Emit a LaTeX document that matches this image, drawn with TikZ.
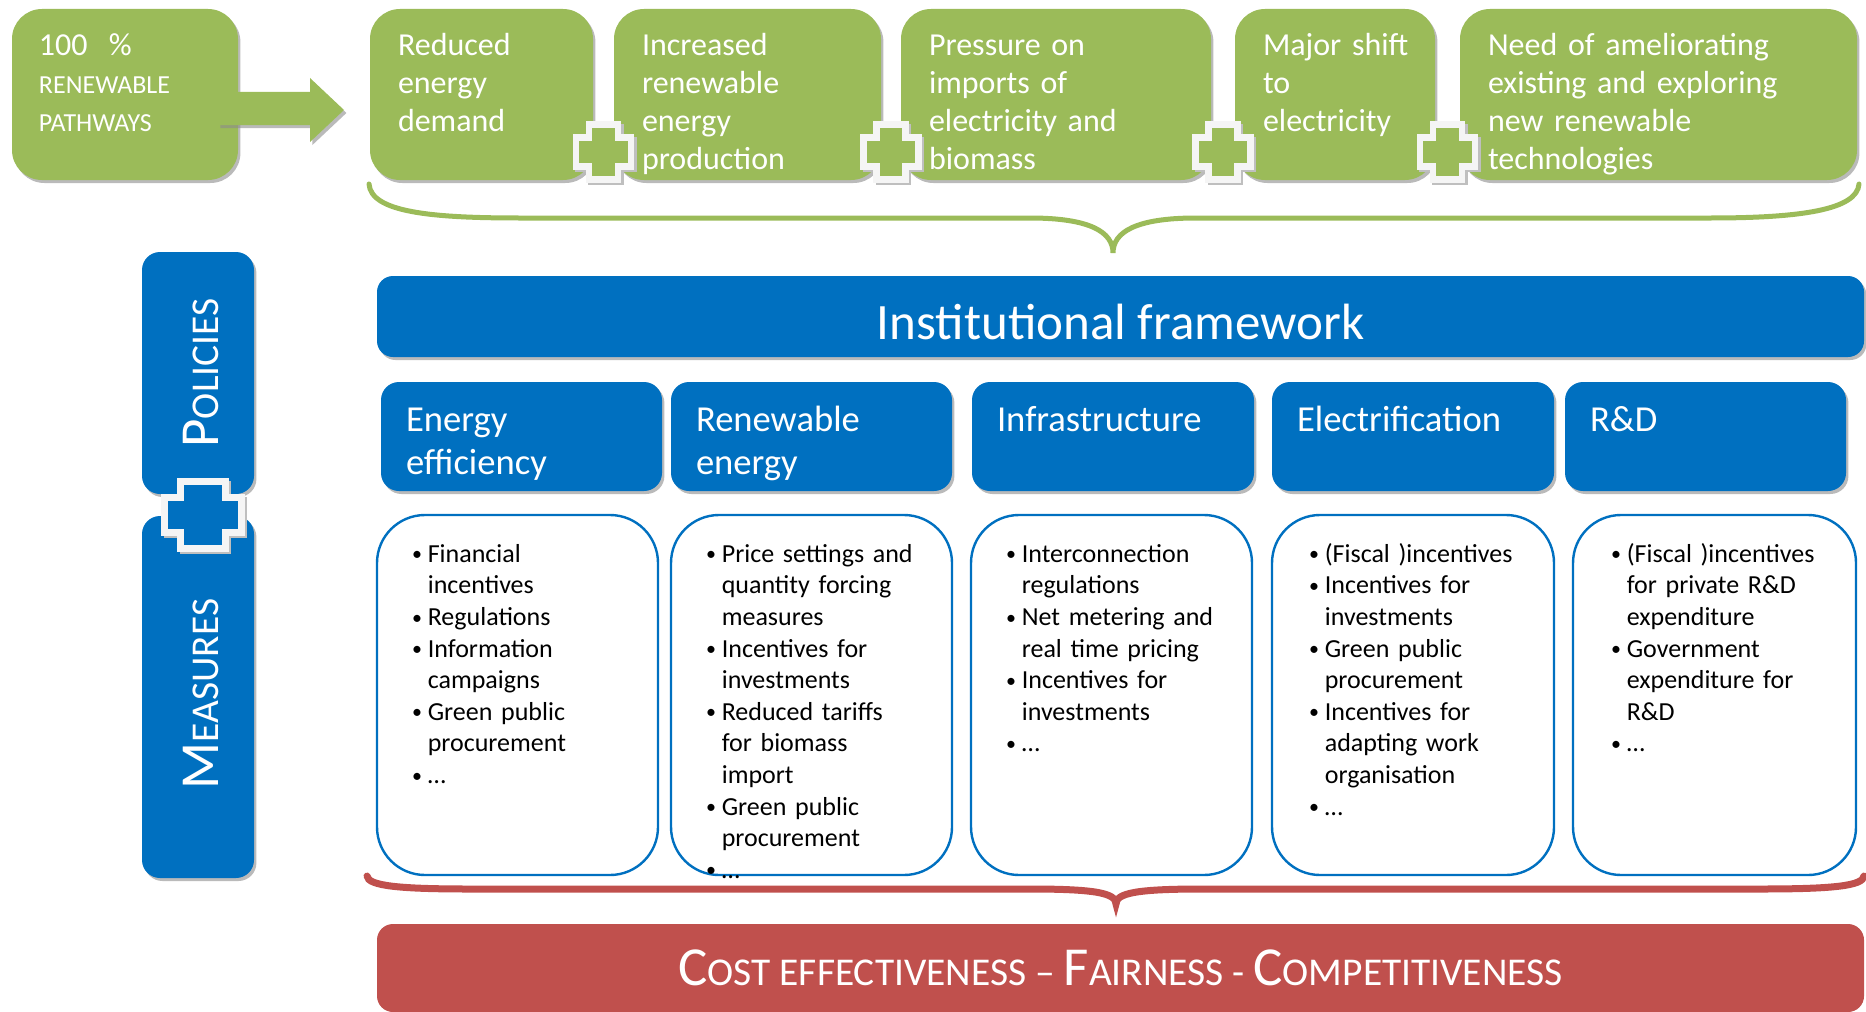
\documentclass[tikz,border=0pt]{standalone}
\usepackage{fontspec}
\setmainfont{Carlito}
\usetikzlibrary{positioning,shadows}

\definecolor{pgreen}{HTML}{9BBB59}
\definecolor{pblue}{HTML}{0070C0}
\definecolor{pred}{HTML}{C0504D}

\newcommand{\bul}{\makebox[8.3pt][l]{\hspace{0.4pt}\raisebox{0.7pt}{\fontsize{10}{10}\selectfont\textbullet}}}
\newcommand{\cnt}{\hspace*{8.3pt}}
\newcommand{\scbig}{\fontsize{27.5}{30}\selectfont}
\newcommand{\scsmall}{\fontsize{19.7}{24}\selectfont}

\begin{document}
\begin{tikzpicture}[x=0.5pt,y=-0.5pt,
  shd/.style={drop shadow={shadow xshift=1.2pt,shadow yshift=-1.5pt,fill=black!45,opacity=.6}},
  gbox/.style={fill=pgreen,rounded corners=15pt,inner sep=0,minimum height=85.5pt,shd},
  gtxt/.style={text=white,align=left,inner sep=0,text width=165pt,font=\fontsize{16}{19}\selectfont,execute at begin node=\strut},
  bbox/.style={fill=pblue,rounded corners=9pt,inner sep=0,shd},
  btxt/.style={text=white,align=left,inner sep=0,text width=130pt,font=\fontsize{18.3}{21.5}\selectfont,execute at begin node=\strut},
  lbox/.style={draw=pblue,line width=1.2pt,fill=white,rounded corners=24pt,minimum height=180pt,inner sep=0},
  ltxt/.style={align=left,inner sep=0,text width=125pt,font=\fontsize{13}{15.8}\selectfont,execute at begin node=\strut},
  pshade/.style={draw=black!25,line width=3.4pt},
  pwhite/.style={draw=black!4,line width=3.4pt},
]
\useasboundingbox (0,0) rectangle (1866,1011);
\clip (0,0) rectangle (1866,1011);

% top row
\node[gbox,minimum width=113pt] (pw) at (125,94.5) {};
\node[gbox,minimum width=111.5pt] (g1) at (481.5,94.5) {};
\node[gbox,minimum width=133.5pt] (g2) at (747.5,94.5) {};
\node[gbox,minimum width=155pt] (g3) at (1056,94.5) {};
\node[gbox,minimum width=100pt] (g4) at (1335,94.5) {};
\node[gbox,minimum width=198.5pt] (g5) at (1658.5,94.5) {};
\fill[pgreen,shd] (218,92) -- (310,92) -- (310,78) -- (344,110) -- (310,142) -- (310,125) -- (218,125) -- cycle;

\node[gtxt,text width=90pt,below right=10pt and 13.5pt of pw.north west] (pwt) {100\ \ \%\\{\fontsize{13}{19}\selectfont RENEWABLE}\\{\fontsize{13}{19}\selectfont PATHWAYS}};
\node[gtxt,below right=10pt and 14pt of g1.north west] (g1t) {Reduced\\energy\\demand};
\node[gtxt,below right=10pt and 14pt of g2.north west] (g2t) {Increased\\renewable\\energy\\production};
\node[gtxt,below right=10pt and 14pt of g3.north west] (g3t) {Pressure on\\imports of\\electricity and\\biomass};
\node[gtxt,below right=10pt and 14pt of g4.north west] (g4t) {Major shift\\to\\electricity};
\node[gtxt,below right=10pt and 14pt of g5.north west] (g5t) {Need of ameliorating\\existing and exploring\\new renewable\\technologies};

\foreach \cx in {603.5,891,1223,1447.5}{
  \draw[pshade,shift={(\cx+2.5,154.5)}] (-14.5,-27.5) -- ++(29,0) -- ++(0,13) -- ++(13,0) -- ++(0,29) -- ++(-13,0) -- ++(0,13) -- ++(-29,0) -- ++(0,-13) -- ++(-13,0) -- ++(0,-29) -- ++(13,0) -- cycle;
  \draw[pwhite,fill=pgreen,shift={(\cx,152)}] (-14.5,-27.5) -- ++(29,0) -- ++(0,13) -- ++(13,0) -- ++(0,29) -- ++(-13,0) -- ++(0,13) -- ++(-29,0) -- ++(0,-13) -- ++(-13,0) -- ++(0,-29) -- ++(13,0) -- cycle;
}

\draw[pgreen,line width=2.5pt,line cap=round] (369,184) .. controls (371,212) and (430,218) .. (520,218) -- (1030,218) .. controls (1090,218) and (1113,232) .. (1113,253) .. controls (1113,232) and (1136,218) .. (1196,218) -- (1710,218) .. controls (1800,218) and (1857,210) .. (1859,184);

% policies + measures
\node[bbox,minimum width=56pt,minimum height=121pt] (pol) at (198,373) {};
\node[bbox,minimum width=56pt,minimum height=181pt] (mea) at (198,697) {};
\node[text=white,rotate=90,inner sep=0] (polt) at (201,373) {\scbig P\scsmall OLICIES};
\node[text=white,rotate=90,inner sep=0] (meat) at (201,694) {\scbig M\scsmall EASURES};
\draw[pshade,shift={(205.5,517.5)}] (-22.5,-33.5) -- ++(45,0) -- ++(0,16) -- ++(16,0) -- ++(0,35) -- ++(-16,0) -- ++(0,16) -- ++(-45,0) -- ++(0,-16) -- ++(-16,0) -- ++(0,-35) -- ++(16,0) -- cycle;
\draw[pwhite,fill=pblue,shift={(203,515)}] (-22.5,-33.5) -- ++(45,0) -- ++(0,16) -- ++(16,0) -- ++(0,35) -- ++(-16,0) -- ++(0,16) -- ++(-45,0) -- ++(0,-16) -- ++(-16,0) -- ++(0,-35) -- ++(16,0) -- cycle;

\node[bbox,rounded corners=8pt,minimum width=743.5pt,minimum height=40.5pt,text=white,text height=23.5pt,font=\fontsize{25.5}{30}\selectfont] (inst) at (1120.5,316.5) {Institutional framework};

% fields
\node[bbox,minimum width=140.5pt,minimum height=54.5pt] (c1) at (521.5,436.5) {};
\node[bbox,minimum width=140.5pt,minimum height=54.5pt] (c2) at (811.5,436.5) {};
\node[bbox,minimum width=141pt,minimum height=54.5pt] (c3) at (1113,436.5) {};
\node[bbox,minimum width=141pt,minimum height=54.5pt] (c4) at (1413,436.5) {};
\node[bbox,minimum width=140.5pt,minimum height=54.5pt] (c5) at (1705.5,436.5) {};
\node[btxt,below right=9.5pt and 12.5pt of c1.north west] (c1t) {Energy\\efficiency};
\node[btxt,below right=9.5pt and 12.5pt of c2.north west] (c2t) {Renewable\\energy};
\node[btxt,below right=9.5pt and 12.5pt of c3.north west] (c3t) {Infrastructure};
\node[btxt,below right=9.5pt and 12.5pt of c4.north west] (c4t) {Electrification};
\node[btxt,below right=9.5pt and 12.5pt of c5.north west] (c5t) {R\&D};

\node[lbox,minimum width=140.5pt] (l1) at (517.5,695) {};
\node[lbox,minimum width=140.5pt] (l2) at (811.5,695) {};
\node[lbox,minimum width=140.5pt] (l3) at (1111.5,695) {};
\node[lbox,minimum width=141pt] (l4) at (1413,695) {};
\node[lbox,minimum width=141.5pt] (l5) at (1714.5,695) {};
\node[ltxt,below right=13pt and 17.5pt of l1.north west] (l1t) {\bul Financial\\\cnt incentives\\\bul Regulations\\\bul Information\\\cnt campaigns\\\bul Green public\\\cnt procurement\\\bul …};
\node[ltxt,below right=13pt and 17.5pt of l2.north west] (l2t) {\bul Price settings and\\\cnt quantity forcing\\\cnt measures\\\bul Incentives for\\\cnt investments\\\bul Reduced tariffs\\\cnt for biomass\\\cnt import\\\bul Green public\\\cnt procurement\\\bul …};
\node[ltxt,below right=13pt and 17.5pt of l3.north west] (l3t) {\bul Interconnection\\\cnt regulations\\\bul Net metering and\\\cnt real time pricing\\\bul Incentives for\\\cnt investments\\\bul …};
\node[ltxt,below right=13pt and 18.5pt of l4.north west] (l4t) {\bul (Fiscal )incentives\\\bul Incentives for\\\cnt investments\\\bul Green public\\\cnt procurement\\\bul Incentives for\\\cnt adapting work\\\cnt organisation\\\bul …};
\node[ltxt,below right=13pt and 19pt of l5.north west] (l5t) {\bul (Fiscal )incentives\\\cnt for private R\&D\\\cnt expenditure\\\bul Government\\\cnt expenditure for\\\cnt R\&D\\\bul …};

\draw[pred,line width=3.5pt,line cap=round] (367,876) .. controls (368,886) and (400,889) .. (470,889) -- (1030,889) .. controls (1095,889) and (1116,893) .. (1116,904) .. controls (1116,893) and (1137,889) .. (1202,889) -- (1760,889) .. controls (1832,889) and (1863,886) .. (1864,876);

\node[fill=pred,rounded corners=8pt,minimum width=743.5pt,minimum height=44pt,inner sep=0,text=white] (cost) at (1120.5,968) {\scbig C\scsmall OST EFFECTIVENESS – \scbig F\scsmall AIRNESS - \scbig C\scsmall OMPETITIVENESS};
\end{tikzpicture}
\end{document}
